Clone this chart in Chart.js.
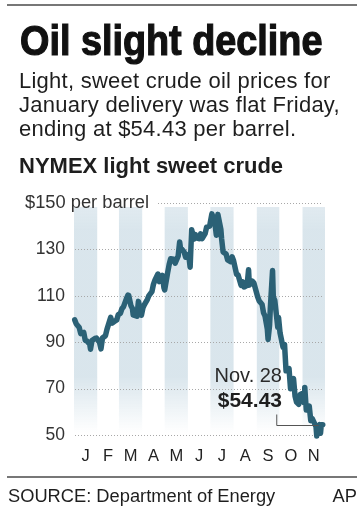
<!DOCTYPE html>
<html>
<head>
<meta charset="utf-8">
<script src="https://cdn.jsdelivr.net/npm/chart.js@4.4.1/dist/chart.umd.min.js"></script>
<style>
  html, body { margin: 0; padding: 0; background: #fff; }
  #wrap { position: relative; width: 364px; height: 512px; overflow: hidden; font-family: "Liberation Sans", Arial, sans-serif; color: #1e1e1e; }
  #wrap canvas { position: absolute; left: 0; top: 0; }
  .t { position: absolute; white-space: nowrap; line-height: 1; }
  .rule { position: absolute; left: 7px; width: 350px; height: 2px; background: #777; }
  #title { left: 20px; top: 19.5px; font-weight: bold; font-size: 42px; color: #111;
           -webkit-text-stroke: 1.2px #111; transform: scaleX(0.9); transform-origin: 0 0; }
  .sub { left: 19px; font-size: 22px; letter-spacing: 0.25px; }
  #head { left: 19px; top: 155.4px; font-size: 22px; font-weight: bold; }
  #unit { left: 25px; top: 192.5px; font-size: 18.3px; color: #333; }
  #note1 { right: 82px; top: 365px; font-size: 20px; color: #2a2a2a; }
  #note2 { right: 82px; top: 389px; font-size: 21px; font-weight: bold; }
  #src { left: 8px; top: 486.5px; font-size: 18.3px; }
  #ap { right: 7px; top: 486.5px; font-size: 18.3px; }
</style>
</head>
<body>
<div id="wrap">
  <canvas id="oil" width="364" height="512"></canvas>
  <div class="rule" style="top:4px"></div>
  <div class="t" id="title">Oil slight decline</div>
  <div class="t sub" style="top:70.4px">Light, sweet crude oil prices for</div>
  <div class="t sub" style="top:94.4px">January delivery was flat Friday,</div>
  <div class="t sub" style="top:118.4px">ending at $54.43 per barrel.</div>
  <div class="t" id="head">NYMEX light sweet crude</div>
  <div class="t" id="unit">$150 per barrel</div>
  <div class="t" id="note1">Nov. 28</div>
  <div class="t" id="note2">$54.43</div>
  <div class="rule" style="top:476px"></div>
  <div class="t" id="src">SOURCE: Department of Energy</div>
  <div class="t" id="ap">AP</div>
</div>
<script>
// 2008 NYMEX light sweet crude, $ per barrel
const dates = ['01-02','01-04','01-08','01-10','01-14','01-16','01-18','01-22','01-23','01-25','01-29','01-31',
  '02-04','02-06','02-08','02-12','02-14','02-19','02-21','02-25','02-27','02-29',
  '03-03','03-05','03-07','03-11','03-13','03-14','03-17','03-19','03-20','03-25','03-27','03-31',
  '04-02','04-04','04-08','04-10','04-14','04-16','04-18','04-22','04-24','04-28','04-30',
  '05-01','05-05','05-07','05-09','05-13','05-15','05-19','05-21','05-22','05-27','05-29',
  '06-02','06-04','06-06','06-09','06-11','06-13','06-16','06-18','06-20','06-24','06-26','06-30',
  '07-03','07-07','07-09','07-11','07-15','07-16','07-18','07-22','07-24','07-28','07-30',
  '08-01','08-05','08-07','08-11','08-13','08-15','08-19','08-21','08-22','08-26','08-28',
  '09-02','09-04','09-08','09-10','09-12','09-15','09-16','09-18','09-19','09-22','09-23','09-25','09-29','09-30',
  '10-02','10-06','10-08','10-10','10-14','10-16','10-17','10-20','10-22','10-24','10-27','10-29','10-31',
  '11-03','11-04','11-06','11-10','11-12','11-14','11-17','11-19','11-20','11-21','11-24','11-25','11-26','11-28'];
const prices = [99.6,97.9,96.3,93.7,94.2,90.8,90.6,89.2,87.0,90.7,91.6,91.8,
  90.0,87.1,91.8,92.8,95.5,100.7,98.2,99.2,99.6,101.8,
  102.5,104.5,105.2,108.8,110.3,110.2,105.7,104.5,101.8,101.2,107.6,101.6,
  104.8,106.2,108.5,110.1,111.8,114.9,116.7,119.4,116.1,118.8,113.5,
  112.5,120.0,123.5,126.0,125.8,124.1,127.1,133.2,130.8,128.9,126.6,
  127.8,122.3,138.5,134.4,136.4,134.9,134.6,136.7,134.6,136.8,139.6,140.0,
  145.3,141.4,136.1,145.1,138.7,134.6,128.9,128.0,125.5,124.7,126.8,
  125.1,119.2,119.0,114.5,116.0,113.8,114.5,121.2,114.6,116.3,115.6,
  109.7,107.9,106.3,102.6,101.2,95.7,91.2,97.2,104.6,120.9,109.4,108.0,96.4,100.6,
  94.0,87.8,89.0,77.7,78.6,69.9,71.9,74.3,66.8,64.2,63.2,67.5,67.8,
  63.9,70.5,60.8,62.4,56.2,57.0,55.0,53.6,49.6,50.9,54.5,50.8,54.4,54.43];
const monthLetters = ['J','F','M','A','M','J','J','A','S','O','N'];
const yTicks = [50, 70, 90, 110, 130, 150];

// day-of-year (Jan 1 = 0) at the start of each month, 2008
const monthStart = [0,31,60,91,121,152,182,213,244,274,305,335];
const toDay = s => monthStart[+s.slice(0,2) - 1] + (+s.slice(3)) - 1;
const points = dates.map((d, i) => ({x: toDay(d), y: prices[i]}));

const backdrop = {
  id: 'backdrop',
  beforeDatasetsDraw(chart) {
    const {ctx, chartArea: a, scales: {x, y}} = chart;
    ctx.save();
    // shaded alternate months, fading out toward the bottom
    const top = y.getPixelForValue(150) + 4, bot = y.getPixelForValue(50) - 2;
    const g = ctx.createLinearGradient(0, top, 0, bot);
    g.addColorStop(0, 'rgba(205,221,230,0.6)');
    g.addColorStop(0.1, 'rgba(205,221,230,0.75)');
    g.addColorStop(0.75, 'rgba(205,221,230,0.75)');
    g.addColorStop(1, 'rgba(205,221,230,0)');
    ctx.fillStyle = g;
    for (let m = 0; m < 11; m += 2) {
      const x0 = x.getPixelForValue(monthStart[m]), x1 = x.getPixelForValue(monthStart[m + 1]);
      ctx.fillRect(x0, top, x1 - x0, bot - top);
    }
    // dotted grid
    ctx.strokeStyle = '#a8a8a8';
    ctx.lineWidth = 1;
    ctx.setLineDash([1, 2]);
    yTicks.forEach(v => {
      const py = Math.round(y.getPixelForValue(v)) + 0.5;
      ctx.beginPath();
      ctx.moveTo(v === 150 ? a.left + 84 : a.left + 1, py);
      ctx.lineTo(a.right - 2, py);
      ctx.stroke();
    });
    ctx.restore();
  },
  afterDatasetsDraw(chart) {
    const {ctx, scales: {x, y}} = chart;
    const last = points[points.length - 1];
    const px = x.getPixelForValue(last.x), py = Math.round(y.getPixelForValue(last.y)) + 0.5;
    ctx.save();
    ctx.strokeStyle = '#555';
    ctx.lineWidth = 1;
    ctx.beginPath();
    ctx.moveTo(px - 4, py);
    ctx.lineTo(px - 46, py);
    ctx.lineTo(px - 46, py - 11);
    ctx.stroke();
    ctx.restore();
  }
};

new Chart(document.getElementById('oil'), {
  type: 'line',
  data: {
    datasets: [{
      data: points,
      borderColor: '#2b6176',
      borderWidth: 5.5,
      borderJoinStyle: 'round',
      borderCapStyle: 'round',
      pointRadius: 0,
      tension: 0,
      clip: false
    }]
  },
  options: {
    responsive: false,
    animation: false,
    events: [],
    layout: { padding: { top: 203, right: 39, bottom: 45, left: 0 } },
    plugins: { legend: { display: false }, tooltip: { enabled: false } },
    scales: {
      x: {
        type: 'linear',
        min: 0,
        max: 335,
        grid: { display: false, drawTicks: false },
        border: { display: false },
        afterBuildTicks: s => { s.ticks = monthLetters.map((l, i) => ({value: (monthStart[i] + monthStart[i + 1]) / 2})); },
        afterFit: s => { s.height = 32; },
        ticks: {
          autoSkip: false,
          maxRotation: 0,
          padding: 12,
          color: '#222',
          font: { family: 'Liberation Sans', size: 16.5 },
          callback: (v, i) => monthLetters[i]
        }
      },
      y: {
        min: 50,
        max: 150,
        grid: { display: false, drawTicks: false },
        border: { display: false },
        afterBuildTicks: s => { s.ticks = yTicks.map(v => ({value: v})); },
        afterFit: s => { s.width = 74; },
        ticks: {
          padding: 9,
          color: '#333',
          font: { family: 'Liberation Sans', size: 17.5 },
          callback: v => (v === 150 ? '' : v)
        }
      }
    }
  },
  plugins: [backdrop]
});
</script>
</body>
</html>
